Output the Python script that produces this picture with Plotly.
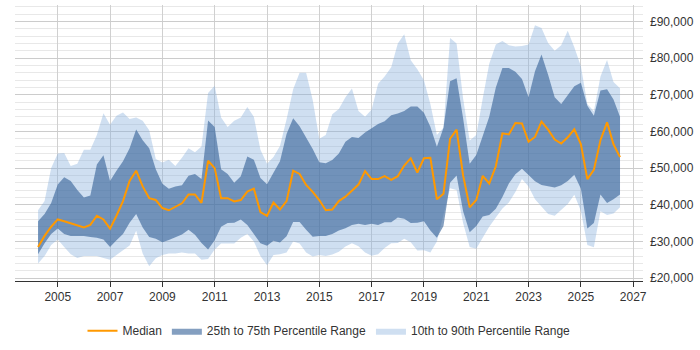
import plotly.graph_objects as go
import pandas as pd

# Quarterly sample dates (Apr 2004 .. Jul 2026)
dates = pd.date_range("2004-04-01", "2026-07-01", freq="QS")

# Values in £ thousands
median_k = [
    28.5, 31.5, 34.0,
    36.0, 35.5, 35.0, 34.5,
    33.8, 34.5, 37.0, 36.0,
    33.5, 37.0, 41.0, 46.5,
    49.3, 45.0, 41.8, 41.3,
    39.1, 38.5, 39.5, 40.4,
    42.8, 42.8, 40.5, 52.0,
    50.0, 41.8, 41.8, 40.9,
    41.3, 43.6, 44.4, 38.0,
    37.0, 40.6, 38.7, 41.0,
    49.3, 48.4, 45.4, 43.5,
    41.3, 38.5, 38.7, 41.0,
    42.2, 43.8, 45.5, 49.2,
    47.0, 47.0, 47.8, 46.8,
    47.8, 50.7, 52.7, 48.8,
    52.7, 52.8, 41.5, 43.0,
    58.0, 60.5, 48.0, 39.3,
    41.3, 47.9, 45.8, 50.5,
    59.5, 59.2, 62.3, 62.2,
    57.2, 58.5, 62.7, 60.5,
    57.8, 56.7, 58.4, 60.6,
    56.5, 47.0, 49.5, 57.6,
    62.5, 56.5, 53.0,
]

p25_k = [
    26.5, 29.5, 32.0,
    33.5, 32.0, 31.5, 31.5,
    31.5, 31.2, 31.0, 30.5,
    28.5, 30.3, 32.0, 35.1,
    37.5, 33.8, 31.2, 30.7,
    29.8, 30.4, 31.2, 31.9,
    33.2, 31.8, 29.6, 27.8,
    30.3, 34.0, 35.0, 35.1,
    36.0, 34.5, 32.0, 29.5,
    28.8, 30.2, 29.7, 31.4,
    35.3, 35.3, 33.2, 31.3,
    31.5, 31.5, 32.0, 33.0,
    33.6, 34.5, 34.8, 34.5,
    34.8, 34.5, 35.2, 35.2,
    36.5, 36.2, 35.0, 35.1,
    35.5, 33.0, 31.0, 34.2,
    46.0, 48.0, 38.2, 32.5,
    34.2, 36.8, 37.2, 38.9,
    42.1, 45.8, 48.3, 49.8,
    48.1, 46.4, 45.4, 45.0,
    44.7, 45.3, 46.5, 48.2,
    44.4, 33.5, 35.0, 42.8,
    40.5, 41.5, 42.8,
]

p75_k = [
    35.5, 37.5, 40.5,
    45.5, 47.5, 46.5, 44.0,
    42.0, 42.5, 51.0, 53.5,
    46.5, 49.3, 51.9, 55.4,
    60.5, 57.6, 55.4, 49.7,
    45.7, 44.4, 45.0, 45.3,
    47.9, 48.4, 47.0, 63.0,
    61.2, 49.7, 48.4, 46.0,
    47.8, 53.2, 52.3, 47.3,
    45.6, 48.7, 51.9, 59.3,
    63.6, 61.4, 58.5, 55.2,
    51.6, 51.3, 52.2, 54.0,
    57.2, 58.5, 58.2, 59.7,
    60.9, 62.0, 62.8, 64.4,
    64.9, 65.6, 66.8, 66.8,
    65.1, 61.3, 55.8, 61.0,
    73.7, 74.5, 63.6, 51.2,
    53.6, 58.5, 64.0, 72.0,
    77.3, 77.3, 76.3, 74.3,
    69.3, 76.4, 81.0, 75.5,
    69.3, 67.5, 70.0, 72.3,
    73.3, 67.0, 64.3, 71.2,
    71.5, 68.7, 64.0,
]

p10_k = [
    24.0, 26.0, 29.0,
    30.5, 28.5, 26.5, 25.5,
    26.0, 26.0, 26.0, 25.5,
    25.0, 26.3, 27.6, 28.9,
    32.9, 26.7, 23.2, 25.4,
    26.3, 26.7, 26.7, 27.0,
    26.7, 26.7, 25.0, 25.2,
    27.8, 29.4, 29.4, 29.4,
    31.0, 32.0, 30.0, 26.0,
    23.5, 26.3, 26.5, 27.0,
    30.0, 29.4, 27.0, 25.9,
    26.3, 26.0, 26.4, 27.2,
    28.6, 29.5, 28.7, 27.0,
    26.1, 26.5, 28.2, 29.5,
    29.6, 30.7, 29.8, 27.5,
    27.6, 27.0, 30.0, 37.0,
    44.5, 44.0, 35.0, 28.5,
    28.0, 31.0, 34.0, 36.5,
    39.0, 40.6, 43.5, 47.0,
    45.0, 41.5, 39.5, 37.5,
    37.0, 38.5, 40.2, 42.7,
    38.3, 29.0, 28.4, 38.2,
    37.2, 37.6, 39.3,
]

p90_k = [
    38.5, 41.0, 50.0,
    54.0, 54.1, 50.6, 51.2,
    55.0, 55.0, 59.0, 65.0,
    61.8, 64.3, 65.2, 63.4,
    63.8, 62.9, 60.3, 52.5,
    51.5, 52.3, 50.6, 52.8,
    55.4, 54.3, 55.9, 70.5,
    72.5, 63.8, 61.2, 62.9,
    63.8, 66.7, 64.0, 55.0,
    51.2, 53.0, 56.0, 63.3,
    71.5, 76.0, 76.0, 68.6,
    58.0, 59.0, 64.7, 66.1,
    69.3, 71.7, 65.6, 64.0,
    66.0, 73.0, 75.0, 77.5,
    84.0, 86.5, 79.4, 77.0,
    74.0, 67.5, 59.0, 61.0,
    85.5, 84.0, 69.0, 57.5,
    59.0, 69.0, 78.5, 83.7,
    84.7, 83.5, 83.2, 83.3,
    83.7, 89.0, 88.2, 84.1,
    82.0, 83.5, 87.5, 83.0,
    77.8, 67.5, 65.5, 75.0,
    79.5, 73.5, 71.8,
]

year_ticks = [2005, 2007, 2009, 2011, 2013, 2015, 2017, 2019, 2021, 2023, 2025, 2027]
y_ticks = [20000, 30000, 40000, 50000, 60000, 70000, 80000, 90000]

def pounds(arr):
    return [v * 1000 for v in arr]

LIGHT = "rgba(135,175,220,0.40)"
DARK = "rgba(50,95,150,0.60)"
ORANGE = "#ff9900"

fig = go.Figure()
fig.add_trace(go.Scatter(x=dates, y=pounds(p10_k), mode="lines", line=dict(width=0),
                         showlegend=False, hoverinfo="skip"))
fig.add_trace(go.Scatter(x=dates, y=pounds(p90_k), mode="lines", line=dict(width=0),
                         fill="tonexty", fillcolor=LIGHT,
                         name="10th to 90th Percentile Range", legendrank=3))
fig.add_trace(go.Scatter(x=dates, y=pounds(p25_k), mode="lines", line=dict(width=0),
                         showlegend=False, hoverinfo="skip"))
fig.add_trace(go.Scatter(x=dates, y=pounds(p75_k), mode="lines", line=dict(width=0),
                         fill="tonexty", fillcolor=DARK,
                         name="25th to 75th Percentile Range", legendrank=2))
fig.add_trace(go.Scatter(x=dates, y=pounds(median_k), mode="lines",
                         line=dict(color=ORANGE, width=2),
                         name="Median", legendrank=1))

font = dict(family="Liberation Sans, Arial, sans-serif", size=12, color="#333333")

fig.update_layout(
    width=700, height=350,
    margin=dict(l=15, r=57, t=5, b=58),
    paper_bgcolor="white", plot_bgcolor="white",
    font=font,
    showlegend=True,
    legend=dict(orientation="h", x=0.5, xanchor="center", y=-0.18, yanchor="middle",
                font=font, traceorder="normal", itemwidth=30),
)
fig.update_xaxes(
    range=["2003-05-15", "2027-05-18"],
    tickvals=[f"{y}-01-01" for y in year_ticks],
    ticktext=[str(y) for y in year_ticks],
    showgrid=True, gridcolor="#d0d0d0", gridwidth=1,
    showline=True, linecolor="#333333", linewidth=1,
    ticks="outside", ticklen=5, tickcolor="#333333",
    zeroline=False,
)
fig.update_yaxes(
    side="right",
    range=[19200, 94500],
    tickvals=y_ticks,
    ticktext=[f"£{v:,}" for v in y_ticks],
    showgrid=True, gridcolor="#cccccc", gridwidth=1,
    minor=dict(dtick=2000, tick0=0, showgrid=True, gridcolor="#e8e8e8"),
    showline=False, zeroline=False, ticks="",
    ticklabelstandoff=6,
)

fig.write_html("out.html")
